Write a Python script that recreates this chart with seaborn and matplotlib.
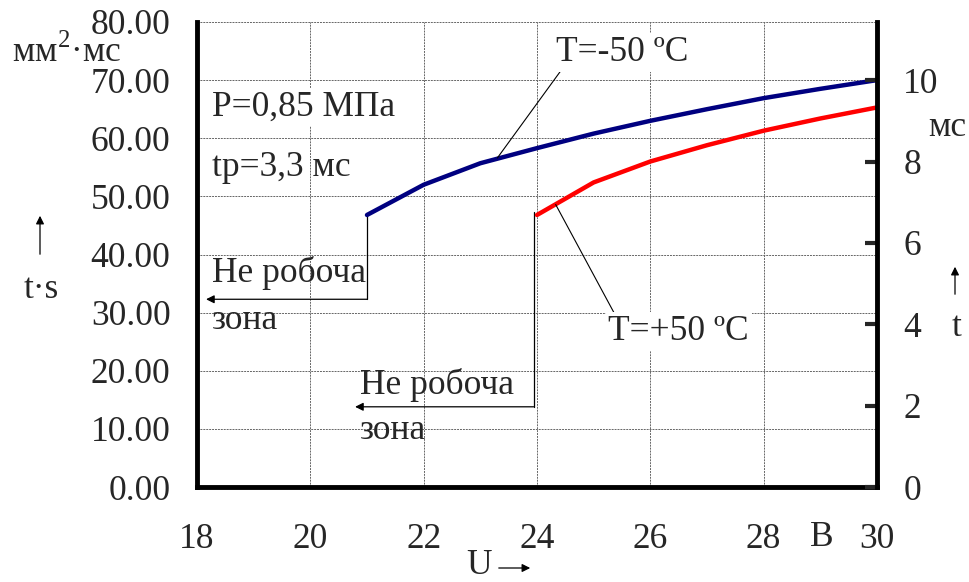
import matplotlib
matplotlib.use("Agg")

import pandas as pd
import matplotlib.pyplot as plt
import seaborn as sns

# ----------------------------------------------------
# Data
# ----------------------------------------------------
U_COLD = [21, 22, 23, 24, 25, 26, 27, 28, 29, 30]
TS_COLD = [46.8, 52.0, 55.7, 58.3, 60.8, 63.0, 65.0, 66.9, 68.5, 70.0]

U_HOT = [24, 25, 26, 27, 28, 29, 30]
TS_HOT = [46.8, 52.4, 56.0, 58.8, 61.3, 63.4, 65.3]

X_TICKS = [18, 20, 22, 24, 26, 28, 30]
Y_TICKS = [0, 10, 20, 30, 40, 50, 60, 70, 80]
T_TICKS = [0, 2, 4, 6, 8, 10]

df = pd.concat([
    pd.DataFrame({"U": U_COLD, "ts": TS_COLD, "T": "cold"}),
    pd.DataFrame({"U": U_HOT, "ts": TS_HOT, "T": "hot"}),
])

sns.set_style("white")
plt.rcParams["font.family"] = ["Liberation Serif", "DejaVu Serif"]
plt.rcParams["mathtext.fontset"] = "custom"
plt.rcParams["mathtext.rm"] = "Liberation Serif"
FS = 25.5

fig = plt.figure(figsize=(9.69, 5.82), dpi=100)
ax = fig.add_axes([0.2033, 0.1632, 0.7017, 0.7990])

sns.lineplot(
    data=df, x="U", y="ts", hue="T",
    palette={"cold": "#000080", "hot": "#ff0000"},
    linewidth=3.2, legend=False, ax=ax, zorder=5,
)

ax.set_xlim(18, 30)
ax.set_ylim(0, 80)
ax.set_xticks(X_TICKS)
ax.set_yticks(Y_TICKS)
ax.set_yticklabels([f"{v:.2f}" for v in Y_TICKS])
ax.set_xlabel("")
ax.set_ylabel("")
ax.grid(True, color="#666666", linestyle=(0, (2, 1)), linewidth=0.7)
ax.tick_params(axis="y", length=0, pad=19, labelsize=FS)
ax.tick_params(axis="x", length=0, pad=26, labelsize=FS)
for s in ["left", "bottom"]:
    ax.spines[s].set_linewidth(3.5)
    ax.spines[s].set_color("black")
ax.spines["top"].set_visible(False)
ax.spines["right"].set_visible(False)

# right axis t, ms
ax2 = ax.twinx()
ax2.set_ylim(0, 80 / 7)
ax2.set_yticks(T_TICKS)
ax2.tick_params(axis="y", direction="in", length=9, width=3, pad=19, labelsize=FS)
for s in ["left", "top", "bottom"]:
    ax2.spines[s].set_visible(False)
ax2.spines["right"].set_linewidth(3.5)
ax2.spines["right"].set_color("black")

# ----------------------------------------------------
# Annotations inside the plot
# ----------------------------------------------------
white = dict(facecolor="white", edgecolor="none", pad=2)
ax.text(18.27, 65.4, "P=0,85 МПа", fontsize=FS, va="center", bbox=white, zorder=6)
ax.text(18.27, 54.9, "tp=3,3 мс", fontsize=FS, va="center", zorder=6)

ax.annotate("T=-50 ºC", xy=(23.3, 56.6), xytext=(24.33, 74.8),
            fontsize=FS, va="center", ha="left", bbox=white, zorder=6,
            arrowprops=dict(arrowstyle="-", color="black", lw=0.8,
                            shrinkA=0, shrinkB=0, relpos=(0.05, 0.0)))
ax.annotate("T=+50 ºC", xy=(24.33, 48.6), xytext=(25.26, 26.7),
            fontsize=FS, va="center", ha="left", bbox=white, zorder=6,
            arrowprops=dict(arrowstyle="-", color="black", lw=0.8,
                            shrinkA=0, shrinkB=0, relpos=(0.05, 1.0)))

# non-working zones
ax.plot([21, 21], [46.8, 32.3], color="black", lw=0.9, zorder=4)
ax.annotate("", xy=(18.16, 32.3), xytext=(21, 32.3),
            arrowprops=dict(arrowstyle="-|>", color="black", lw=0.9,
                            mutation_scale=12, shrinkA=0, shrinkB=0))
ax.text(18.27, 36.8, "Не робоча", fontsize=FS, va="center", zorder=6)
ax.text(18.27, 28.7, "зона", fontsize=FS, va="center", zorder=6)

ax.plot([23.94, 23.94], [47.3, 13.8], color="black", lw=0.9, zorder=4)
ax.annotate("", xy=(20.79, 13.8), xytext=(23.94, 13.8),
            arrowprops=dict(arrowstyle="-|>", color="black", lw=0.9,
                            mutation_scale=12, shrinkA=0, shrinkB=0))
ax.text(20.88, 17.5, "Не робоча", fontsize=FS, va="center", zorder=6)
ax.text(20.88, 9.8, "зона", fontsize=FS, va="center", zorder=6)

# ----------------------------------------------------
# Axis captions (figure coords)
# ----------------------------------------------------
W, H = 969, 582


def fx(px):
    return px / W


def fy(py):
    return 1 - py / H


fig.text(fx(12), fy(52), "мм$^{2}$·мс", fontsize=FS, va="center", ha="left")
fig.text(fx(41), fy(290), "t·s", fontsize=FS, va="center", ha="center")
fig.patches.append(matplotlib.patches.FancyArrowPatch(
    (fx(40), fy(257)), (fx(40), fy(213)), transform=fig.transFigure,
    arrowstyle="-|>", mutation_scale=12, color="black", lw=0.9))

fig.text(fx(928), fy(128), "мс", fontsize=FS, va="center", ha="left")
fig.text(fx(957), fy(327), "t", fontsize=FS, va="center", ha="center")
fig.patches.append(matplotlib.patches.FancyArrowPatch(
    (fx(955), fy(297)), (fx(955), fy(264)), transform=fig.transFigure,
    arrowstyle="-|>", mutation_scale=12, color="black", lw=0.9))

fig.text(fx(822), fy(537), "В", fontsize=FS, va="center", ha="center")
fig.text(fx(479), fy(565), "U", fontsize=FS, va="center", ha="center")
fig.patches.append(matplotlib.patches.FancyArrowPatch(
    (fx(496), fy(568)), (fx(533), fy(568)), transform=fig.transFigure,
    arrowstyle="-|>", mutation_scale=12, color="black", lw=0.9))

fig.savefig("out.png", dpi=100)
